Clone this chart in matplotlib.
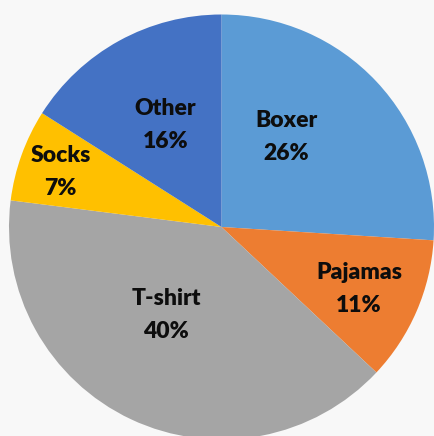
import matplotlib
matplotlib.use('Agg')
from matplotlib import pyplot as plt
import numpy as np

# slice data, clockwise from the top
categories = ['Boxer', 'Pajamas', 'T-shirt', 'Socks', 'Other']
shares = [26, 11, 40, 7, 16]
colors = ['#5B9BD5', '#ED7D31', '#A5A5A5', '#FFC000', '#4472C4']

# label placement: (fraction of radius, angle shift in degrees)
label_pos = [(0.52, 11), (0.71, -1), (0.49, -7), (0.80, 1), (0.55, 0)]

W, H = 434, 436
fig = plt.figure(figsize=(W / 100, H / 100), dpi=100)
fig.patch.set_facecolor('#F8F8F8')
ax = fig.add_axes([0, 0, 1, 1])
ax.set_facecolor('#F8F8F8')

cx, cy, r = 221.5, H - 227, 212.5
wedges, _ = ax.pie(shares, colors=colors, startangle=90, counterclock=False,
                   radius=r, center=(cx, cy), frame=True,
                   wedgeprops=dict(linewidth=0))

for w, name, val, (f, shift) in zip(wedges, categories, shares, label_pos):
    mid = np.deg2rad((w.theta1 + w.theta2) / 2 + shift)
    x = cx + f * r * np.cos(mid)
    y = cy + f * r * np.sin(mid)
    ax.text(x, y, f'{name}\n{val}%', ha='center', va='center',
            fontsize=16.5, fontweight='heavy', family='Lato',
            color='#0d0d0d', linespacing=1.7)

ax.set_xlim(0, W)
ax.set_ylim(0, H)
ax.set_aspect('auto')
ax.axis('off')

plt.savefig('out.png', dpi=100, facecolor=fig.get_facecolor())
